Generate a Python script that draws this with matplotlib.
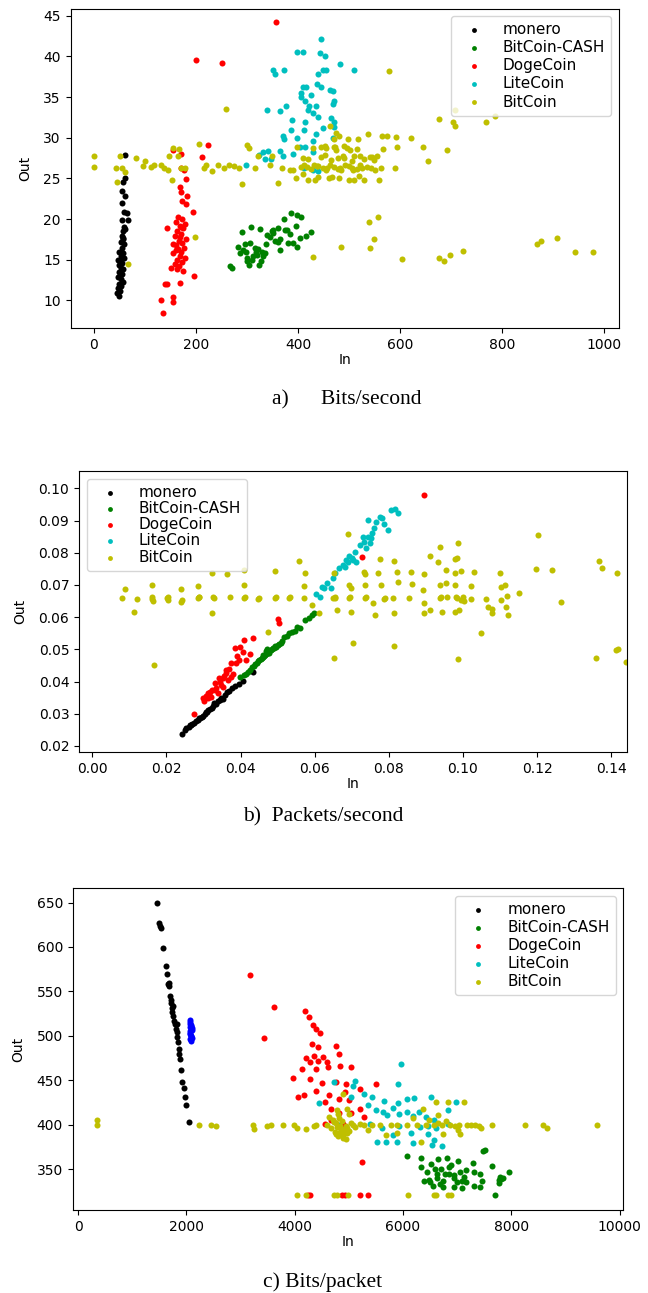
import matplotlib
matplotlib.use("Agg")
import matplotlib.pyplot as plt

# ---------------- a) Bits/second ----------------
a_monero_x = [61, 61, 57, 54, 61, 55, 59, 65, 55, 66, 58, 56, 60, 54, 57, 52, 59, 55, 50, 56,
              53, 58, 51, 55, 49, 53, 57, 50, 54, 48, 52, 56, 49, 53, 47, 51, 46, 50, 48, 57]
a_monero_y = [27.9, 25.0, 24.6, 23.5, 22.8, 22.0, 20.9, 20.7, 19.9, 19.9, 19.0, 18.5, 18.8, 17.9,
              17.5, 17.2, 16.9, 16.5, 16.0, 15.8, 15.5, 15.2, 14.9, 14.6, 14.3, 14.0, 13.8, 13.5,
              13.2, 12.9, 12.6, 12.3, 12.0, 11.8, 11.5, 11.2, 10.9, 10.6, 15.0, 17.7]

a_bch_x = [267, 271, 290, 308, 325, 348, 340, 372, 387, 397, 405, 425, 403, 398, 381, 364, 332,
           304, 324, 300, 287, 283, 295, 305, 315, 320, 330, 345, 355, 360, 375, 385, 395, 300,
           310, 318, 328, 338, 350, 292, 298, 312, 322, 335, 365, 378, 390, 415, 350, 360]
a_bch_y = [14.2, 14.0, 18.4, 19.0, 18.8, 18.5, 18.1, 20.0, 20.7, 20.5, 20.3, 18.4, 17.7, 16.6,
           17.0, 16.2, 15.4, 14.4, 14.3, 14.8, 15.8, 16.6, 16.9, 17.1, 16.5, 15.6, 16.0, 17.8,
           17.3, 18.9, 18.7, 18.2, 19.2, 15.2, 15.0, 15.9, 14.9, 16.9, 18.3, 16.2, 16.0, 15.4,
           16.3, 15.8, 17.5, 18.6, 17.0, 17.9, 18.7, 17.2]

a_doge_x = [356, 199, 251, 223, 155, 171, 211, 171, 176, 180, 168, 170, 182, 173, 180, 194, 143,
            197, 139, 144, 168, 131, 155, 155, 136, 165, 172, 160, 178, 168, 175, 162, 170, 158,
            180, 166, 172, 160, 176, 164, 170, 155, 168, 178, 162, 173, 158, 166, 150, 163, 175,
            160, 168, 171, 155]
a_doge_y = [44.3, 39.6, 39.2, 29.1, 28.5, 28.0, 27.6, 26.3, 26.0, 24.9, 23.9, 23.3, 22.8, 22.2,
            21.9, 20.9, 18.9, 13.0, 12.0, 12.0, 12.2, 10.0, 10.4, 9.8, 8.4, 20.3, 20.0, 19.6,
            19.4, 19.2, 18.9, 18.5, 18.2, 17.9, 17.6, 17.3, 17.0, 16.8, 16.5, 16.3, 16.0, 15.8,
            15.5, 15.2, 15.0, 14.7, 14.5, 14.2, 14.0, 13.8, 13.6, 16.2, 17.8, 19.0, 16.9]

a_lite_x = [445, 398, 409, 442, 453, 482, 510, 350, 355, 373, 449, 455, 439, 437, 445, 462, 468,
            409, 415, 406, 425, 405, 470, 468, 413, 421, 435, 340, 364, 377, 419, 429, 439, 413,
            389, 464, 470, 449, 470, 387, 411, 435, 371, 372, 397, 429, 468, 332, 342, 364, 391,
            429, 403, 413, 371, 336, 346, 297, 411, 429, 439, 324]
a_lite_y = [42.1, 40.5, 40.5, 40.4, 40.1, 39.1, 38.4, 38.4, 37.9, 38.3, 38.4, 38.4, 37.8, 36.6,
            36.3, 35.9, 35.8, 36.3, 36.2, 35.5, 35.3, 35.0, 34.5, 34.2, 34.5, 33.9, 33.9, 33.4,
            33.3, 33.9, 33.4, 33.0, 32.6, 31.9, 32.2, 32.4, 31.9, 31.2, 31.3, 30.9, 30.9, 30.5,
            30.2, 29.8, 30.0, 29.6, 30.0, 28.2, 28.4, 28.4, 28.0, 28.2, 28.9, 28.9, 27.7, 27.4,
            27.4, 26.6, 26.3, 26.0, 25.9, 27.9]

a_btc_x = [1, 1, 51, 43, 54, 61, 45, 67, 83, 100, 96, 112, 117, 131, 138, 146, 152, 147, 154,
           167, 164, 170, 178, 198, 205, 215, 219, 231, 243, 255, 264, 275, 285, 290, 259, 299,
           303, 316, 322, 344, 348, 361, 368, 384, 395, 397, 409, 417, 419, 433, 437, 445, 453,
           457, 462, 466, 470, 474, 478, 482, 490, 498, 502, 506, 510, 518, 522, 526, 530, 537,
           541, 543, 549, 555, 559, 565, 567, 563, 575, 579, 591, 593, 590, 621, 644, 654, 677,
           692, 704, 708, 707, 769, 785, 539, 557, 549, 541, 484, 429, 604, 676, 686, 698, 723,
           868, 877, 908, 943, 977, 405, 425, 440, 455, 470, 485, 500, 515, 535, 550, 420, 445,
           465, 490, 510, 530, 430, 455, 475, 495, 515, 460, 440, 480, 500, 410, 390, 470, 480,
           412, 432, 448, 462, 478, 492, 508, 522, 545, 452, 472, 488, 505, 520]
a_btc_y = [27.8, 26.4, 27.7, 26.3, 26.3, 25.8, 24.6, 14.5, 27.5, 27.2, 26.5, 26.4, 26.6, 26.6,
           26.3, 26.1, 24.8, 27.7, 28.8, 28.6, 27.7, 26.3, 26.3, 17.8, 29.2, 26.3, 26.6, 25.9,
           26.6, 26.3, 26.6, 26.5, 26.3, 24.3, 33.6, 29.1, 28.8, 26.3, 27.8, 26.6, 27.7, 24.5,
           26.3, 26.1, 25.1, 28.9, 27.5, 26.4, 24.8, 24.8, 26.5, 28.9, 27.9, 26.3, 31.4, 25.2,
           28.9, 30.6, 27.5, 26.3, 29.0, 29.9, 28.5, 26.3, 24.8, 29.9, 27.7, 26.3, 24.8, 30.5,
           27.6, 26.3, 27.3, 27.7, 24.8, 30.2, 28.6, 26.3, 30.2, 38.2, 30.1, 28.9, 26.3, 30.0,
           28.9, 27.1, 32.3, 28.5, 32.0, 33.4, 31.4, 32.0, 32.7, 19.6, 20.2, 17.6, 16.4, 16.6,
           15.3, 15.1, 15.2, 14.8, 15.6, 16.1, 16.9, 17.3, 17.7, 16.0, 16.0, 26.4, 26.2, 26.5,
           26.1, 26.4, 26.0, 26.5, 26.2, 26.4, 26.0, 27.4, 27.6, 27.3, 27.5, 27.8, 27.4, 28.7,
           28.8, 28.5, 28.7, 28.6, 25.0, 25.2, 25.1, 24.8, 25.6, 26.0, 29.8, 30.2,
           26.6, 26.7, 26.3, 26.6, 26.2, 26.7, 26.1, 26.6, 27.6, 29.0, 28.9, 27.7, 27.2, 25.3]

# ---------------- b) Packets/second ----------------
b_monero_x = [0.0242, 0.0250, 0.0254, 0.0260, 0.0266, 0.0270, 0.0274, 0.0280, 0.0285, 0.0290,
              0.0296, 0.0300, 0.0305, 0.0310, 0.0313, 0.0318, 0.0322, 0.0328, 0.0333, 0.0340,
              0.0347, 0.0352, 0.0358, 0.0363, 0.0370, 0.0378, 0.0386, 0.0395, 0.0406, 0.0433,
              0.0263, 0.0288, 0.0308, 0.0326, 0.0344]
b_monero_y = [0.0237, 0.0248, 0.0255, 0.0259, 0.0264, 0.0268, 0.0271, 0.0276, 0.0282, 0.0286,
              0.0291, 0.0294, 0.0300, 0.0305, 0.0311, 0.0314, 0.0318, 0.0334, 0.0330, 0.0338,
              0.0348, 0.0346, 0.0357, 0.0368, 0.0372, 0.0380, 0.0386, 0.0393, 0.0403, 0.0429,
              0.0264, 0.0288, 0.0306, 0.0323, 0.0342]

b_bch_x = [0.0399, 0.0408, 0.0414, 0.0420, 0.0425, 0.0430, 0.0436, 0.0440, 0.0444, 0.0447,
           0.0450, 0.0454, 0.0458, 0.0461, 0.0464, 0.0467, 0.0470, 0.0473, 0.0476, 0.0478,
           0.0481, 0.0484, 0.0487, 0.0490, 0.0492, 0.0496, 0.0500, 0.0505, 0.0509, 0.0513,
           0.0518, 0.0525, 0.0531, 0.0540, 0.0547, 0.0553, 0.0560, 0.0574, 0.0585, 0.0593,
           0.0598, 0.0468, 0.0472, 0.0460]
b_bch_y = [0.0415, 0.0420, 0.0424, 0.0430, 0.0436, 0.0444, 0.0448, 0.0455, 0.0457, 0.0465,
           0.0466, 0.0470, 0.0472, 0.0476, 0.0480, 0.0483, 0.0486, 0.0488, 0.0490, 0.0494,
           0.0497, 0.0500, 0.0503, 0.0505, 0.0510, 0.0508, 0.0512, 0.0517, 0.0521, 0.0525,
           0.0537, 0.0540, 0.0550, 0.0553, 0.0556, 0.0570, 0.0566, 0.0591, 0.0596, 0.0607,
           0.0612, 0.0495, 0.0502, 0.0481]

b_doge_x = [0.0895, 0.0727, 0.0500, 0.0503, 0.0274, 0.0300, 0.0302, 0.0313, 0.0321, 0.0330,
            0.0339, 0.0347, 0.0352, 0.0361, 0.0369, 0.0375, 0.0388, 0.0397, 0.0410, 0.0433,
            0.0386, 0.0399, 0.0406, 0.0426, 0.0414, 0.0375, 0.0361, 0.0341, 0.0330, 0.0324,
            0.0313, 0.0352, 0.0380, 0.0391, 0.0308, 0.0318, 0.0335, 0.0345, 0.0356, 0.0366]
b_doge_y = [0.0981, 0.0786, 0.0594, 0.0581, 0.0299, 0.0348, 0.0338, 0.0364, 0.0353, 0.0374,
            0.0364, 0.0389, 0.0410, 0.0426, 0.0438, 0.0413, 0.0457, 0.0467, 0.0529, 0.0536,
            0.0503, 0.0506, 0.0493, 0.0486, 0.0467, 0.0457, 0.0436, 0.0410, 0.0395, 0.0374,
            0.0348, 0.0384, 0.0424, 0.0479, 0.0355, 0.0368, 0.0381, 0.0400, 0.0418, 0.0404]

b_lite_x = [0.0604, 0.0615, 0.0621, 0.0632, 0.0649, 0.0656, 0.0665, 0.0677, 0.0685, 0.0693,
            0.0704, 0.0712, 0.0721, 0.0732, 0.0744, 0.0749, 0.0755, 0.0744, 0.0766, 0.0775,
            0.0788, 0.0799, 0.0805, 0.0816, 0.0825, 0.0760, 0.0738, 0.0710, 0.0682, 0.0643,
            0.0783, 0.0730, 0.0700, 0.0690, 0.0752, 0.0626]
b_lite_y = [0.0672, 0.0664, 0.0695, 0.0705, 0.0721, 0.0736, 0.0752, 0.0762, 0.0777, 0.0790,
            0.0777, 0.0772, 0.0824, 0.0834, 0.0850, 0.0829, 0.0860, 0.0902, 0.0897, 0.0912,
            0.0891, 0.0871, 0.0933, 0.0935, 0.0924, 0.0876, 0.0814, 0.0803, 0.0757, 0.0690,
            0.0907, 0.0850, 0.0785, 0.0770, 0.0845, 0.0690]

b_btc_x = [0.0081, 0.0089, 0.0113, 0.0121, 0.0162, 0.0162, 0.0164, 0.0167, 0.0201, 0.0204,
           0.0240, 0.0240, 0.0285, 0.0285, 0.0324, 0.0324, 0.0328, 0.0363, 0.0371, 0.0410,
           0.0410, 0.0410, 0.0448, 0.0473, 0.0492, 0.0492, 0.0531, 0.0559, 0.0573, 0.0570,
           0.0570, 0.0593, 0.0612, 0.0649, 0.0652, 0.0652, 0.0660, 0.0691, 0.0693, 0.0693,
           0.0699, 0.0704, 0.0732, 0.0735, 0.0735, 0.0758, 0.0762, 0.0772, 0.0779, 0.0788,
           0.0813, 0.0811, 0.0813, 0.0813, 0.0822, 0.0824, 0.0855, 0.0861, 0.0864, 0.0892,
           0.0895, 0.0895, 0.0895, 0.0911, 0.0911, 0.0934, 0.0937, 0.0937, 0.0939, 0.0943,
           0.0954, 0.0954, 0.0978, 0.0984, 0.0987, 0.0978, 0.0978, 0.0984, 0.0978, 0.0990,
           0.0987, 0.0995, 0.0995, 0.1021, 0.1023, 0.1029, 0.1048, 0.1062, 0.1068, 0.1079,
           0.1079, 0.1101, 0.1104, 0.1113, 0.1104, 0.1118, 0.1115, 0.1121, 0.1152, 0.1202,
           0.1197, 0.1241, 0.1264, 0.1359, 0.1366, 0.1375, 0.1415, 0.1412, 0.1418, 0.1439,
           0.0737, 0.0655, 0.0698, 0.0775, 0.0958, 0.1002, 0.0289, 0.0450,
           0.0162, 0.0203, 0.0242, 0.0287, 0.0326, 0.0412, 0.0495, 0.0534, 0.0654, 0.0696,
           0.0738, 0.0790, 0.0940, 0.0982, 0.1000]
b_btc_y = [0.0661, 0.0688, 0.0615, 0.0656, 0.0700, 0.0655, 0.0650, 0.0451, 0.0658, 0.0653,
           0.0689, 0.0648, 0.0698, 0.0658, 0.0736, 0.0614, 0.0658, 0.0733, 0.0664, 0.0746,
           0.0700, 0.0658, 0.0655, 0.0555, 0.0743, 0.0658, 0.0658, 0.0775, 0.0738, 0.0698,
           0.0658, 0.0638, 0.0614, 0.0658, 0.0736, 0.0474, 0.0622, 0.0858, 0.0700, 0.0658,
           0.0617, 0.0519, 0.0741, 0.0700, 0.0658, 0.0643, 0.0607, 0.0736, 0.0700, 0.0655,
           0.0775, 0.0658, 0.0614, 0.0510, 0.0741, 0.0710, 0.0658, 0.0741, 0.0703, 0.0684,
           0.0734, 0.0643, 0.0614, 0.0790, 0.0622, 0.0772, 0.0819, 0.0658, 0.0700, 0.0617,
           0.0746, 0.0705, 0.0780, 0.0785, 0.0829, 0.0736, 0.0700, 0.0658, 0.0617, 0.0622,
           0.0469, 0.0744, 0.0653, 0.0697, 0.0655, 0.0741, 0.0550, 0.0655, 0.0633, 0.0624,
           0.0614, 0.0736, 0.0695, 0.0700, 0.0653, 0.0666, 0.0633, 0.0607, 0.0674, 0.0855,
           0.0749, 0.0746, 0.0648, 0.0472, 0.0775, 0.0752, 0.0738, 0.0498, 0.0500, 0.0462,
           0.0735, 0.0663, 0.0692, 0.0780, 0.0662, 0.0650, 0.0662, 0.0660,
           0.0662, 0.0662, 0.0652, 0.0662, 0.0662, 0.0662, 0.0662, 0.0663, 0.0661, 0.0662,
           0.0662, 0.0661, 0.0662, 0.0662, 0.0664]

# ---------------- c) Bits/packet ----------------
c_monero_x = [1454, 1492, 1514, 1530, 1568, 1621, 1644, 1659, 1682, 1697, 1712, 1720, 1735, 1743,
              1758, 1773, 1796, 1811, 1826, 1834, 1849, 1865, 1872, 1887, 1903, 1925, 1948, 1971,
              2001, 2040, 1819, 1758, 1682]
c_monero_y = [650, 627, 624, 621, 599, 578, 570, 558, 556, 545, 540, 537, 531, 527, 522, 517, 513,
              508, 504, 499, 493, 485, 480, 474, 461, 448, 441, 431, 422, 403, 513, 533, 559]

c_blue_x = [2060, 2075, 2090, 2065, 2080, 2095, 2070, 2085, 2100, 2060, 2075, 2090, 2065, 2080,
            2095, 2070, 2085]
c_blue_y = [518, 515, 512, 510, 508, 506, 503, 500, 497, 505, 502, 500, 513, 511, 509, 496, 494]

c_bch_x = [6073, 6324, 6644, 6819, 7009, 7291, 7481, 7519, 7633, 6324, 6514, 6590, 6438, 6704,
           6857, 7047, 7161, 7313, 7428, 7961, 7786, 6476, 6385, 6629, 6743, 6933, 7085, 7161,
           7466, 7770, 7846, 6552, 6743, 6933, 7313, 7428, 7770, 7808, 7694, 7085, 6629, 6857,
           6933, 6500, 6780, 7000, 7120, 6680, 6880]
c_bch_y = [365, 362, 361, 362, 359, 357, 370, 371, 353, 352, 356, 350, 347, 350, 344, 347, 349,
           347, 344, 347, 341, 338, 337, 340, 337, 340, 337, 335, 337, 338, 340, 331, 330, 330,
           331, 330, 334, 339, 321, 329, 345, 352, 343, 336, 345, 336, 341, 333, 355]

c_doge_x = [3181, 3615, 3432, 4186, 4269, 4345, 4398, 4459, 4322, 4756, 4422, 4208, 4361, 4528,
            4284, 4436, 4589, 4817, 4132, 4398, 4612, 4832, 5030, 3970, 4284, 4513, 4756, 4954,
            5505, 4931, 5198, 4056, 4170, 4398, 4627, 4817, 5007, 5198, 5274, 4551, 4665, 4817,
            5046, 5236, 4247, 4285, 4878, 4932, 5198, 5350, 4665, 4551, 4893]
c_doge_y = [568, 532, 498, 528, 521, 512, 508, 503, 491, 488, 487, 475, 477, 476, 471, 472, 471,
            480, 463, 463, 465, 466, 465, 452, 451, 447, 448, 446, 446, 437, 440, 431, 433, 438,
            433, 429, 428, 418, 409, 426, 418, 413, 413, 358, 321, 321, 321, 321, 321, 321, 405,
            401, 401]

c_lite_x = [5959, 5898, 5122, 5084, 4726, 4452, 5426, 5654, 5913, 6065, 6210, 6522, 6979, 5350,
            5502, 5639, 5806, 5921, 6073, 6186, 6301, 6415, 6567, 6833, 6833, 4817, 5046, 5388,
            5616, 5806, 5525, 5693, 5883, 6187, 6454, 6567, 6529, 6720, 6149, 5921, 6316, 6453,
            5274, 5700, 6605]
c_lite_y = [468, 446, 449, 443, 448, 424, 431, 427, 424, 429, 430, 431, 426, 422, 417, 414, 419,
            412, 414, 410, 414, 409, 405, 416, 401, 400, 431, 401, 396, 388, 380, 381, 381, 379,
            390, 383, 377, 376, 391, 398, 397, 398, 435, 411, 396]

c_btc_x = [350, 350, 2230, 2458, 2550, 3234, 3242, 3485, 3561, 3790, 3980, 4041, 4208, 4361,
           4398, 4589, 4665, 4741, 4756, 4802, 4855, 4893, 4970, 4779, 4970, 5007, 4893, 5084,
           5274, 5426, 5578, 5769, 5883, 6073, 6263, 6415, 6567, 6720, 6872, 7024, 7176, 7329,
           7443, 7648, 8257, 8584, 8660, 9589, 6605, 6833, 7116, 6362, 6187, 6643, 6743, 7009,
           7047, 5883, 5693, 5350, 5198, 6339, 4041, 4208, 4726, 4779, 4985, 6096, 6567, 6605,
           6833, 6886, 4627, 4817, 4703, 4830, 4910, 4760, 4950, 5120, 6950, 7250, 7400,
           4720, 4780, 4840, 4900, 4960, 5030, 4800, 4870, 4940, 5000, 6480, 6640, 6800]
c_btc_y = [405, 400, 400, 400, 399, 400, 395, 399, 400, 400, 400, 396, 395, 398, 400, 400, 396,
           392, 402, 387, 395, 385, 391, 417, 418, 412, 435, 400, 400, 400, 400, 400, 400, 400,
           400, 400, 400, 400, 400, 400, 400, 400, 396, 400, 400, 400, 396, 400, 426, 426, 426,
           418, 408, 411, 389, 394, 390, 391, 388, 394, 401, 381, 321, 321, 321, 321, 321, 321,
           321, 321, 321, 321, 409, 407, 405, 398, 394, 390, 384, 397, 399, 400, 398,
           403, 397, 392, 388, 396, 402, 412, 404, 399, 393, 405, 402, 404]

labels = ["monero", "BitCoin-CASH", "DogeCoin", "LiteCoin", "BitCoin"]
colors = ["k", "g", "r", "c", "y"]

plt.rcParams["font.size"] = 10

fig = plt.figure(figsize=(6.48, 12.93), dpi=100)
ax1 = fig.add_axes([0.1088, 0.7463, 0.8465, 0.2471])
ax2 = fig.add_axes([0.1219, 0.4184, 0.8452, 0.2173])
ax3 = fig.add_axes([0.1122, 0.0642, 0.8497, 0.2488])

s = 19
panels = [
    (ax1, [(a_monero_x, a_monero_y), (a_bch_x, a_bch_y), (a_doge_x, a_doge_y),
           (a_lite_x, a_lite_y), (a_btc_x, a_btc_y)], "upper right", 0.2),
    (ax2, [(b_monero_x, b_monero_y), (b_bch_x, b_bch_y), (b_doge_x, b_doge_y),
           (b_lite_x, b_lite_y), (b_btc_x, b_btc_y)], "upper left", 0.08),
    (ax3, [(c_monero_x, c_monero_y), (c_bch_x, c_bch_y), (c_doge_x, c_doge_y),
           (c_lite_x, c_lite_y), (c_btc_x, c_btc_y)], "upper right", 0.2),
]

for ax, series, loc, lsp in panels:
    for (xs, ys), lab, col in zip(series, labels, colors):
        ax.scatter(xs, ys, s=s, c=col, label=lab, linewidths=0)
    ax.set_xlabel("In", labelpad=1)
    ax.set_ylabel("Out", labelpad=8)
    ax.legend(loc=loc, fontsize=11, labelspacing=lsp, handlelength=2.2,
              handletextpad=0.8, markerscale=0.8)

# unlabeled blue cluster in c)
ax3.scatter(c_blue_x, c_blue_y, s=s, c="b", linewidths=0)

ax1.set_xlim(-46, 1029)
ax1.set_ylim(6.6, 45.9)
ax1.set_yticks([10, 15, 20, 25, 30, 35, 40, 45])

ax2.set_xlim(-0.0036, 0.1442)
ax2.set_ylim(0.0181, 0.1054)
ax2.set_xticks([0.0, 0.02, 0.04, 0.06, 0.08, 0.10, 0.12, 0.14])
ax2.set_xticklabels(["0.00", "0.02", "0.04", "0.06", "0.08", "0.10", "0.12", "0.14"])

ax3.set_xlim(-98, 10066)
ax3.set_ylim(304, 666)
ax3.set_xticks([0, 2000, 4000, 6000, 8000, 10000])
ax3.set_yticks([350, 400, 450, 500, 550, 600, 650])

cap = dict(family="Liberation Serif", fontsize=15.5, ha="center", va="center")
fig.text(347 / 648, 1 - 400 / 1293, "a)      Bits/second", **cap)
fig.text(323 / 648, 1 - 817 / 1293, "b)  Packets/second", **cap)
fig.text(323 / 648, 1 - 1282 / 1293, "c) Bits/packet", **cap)

fig.savefig("out.png", dpi=100)
